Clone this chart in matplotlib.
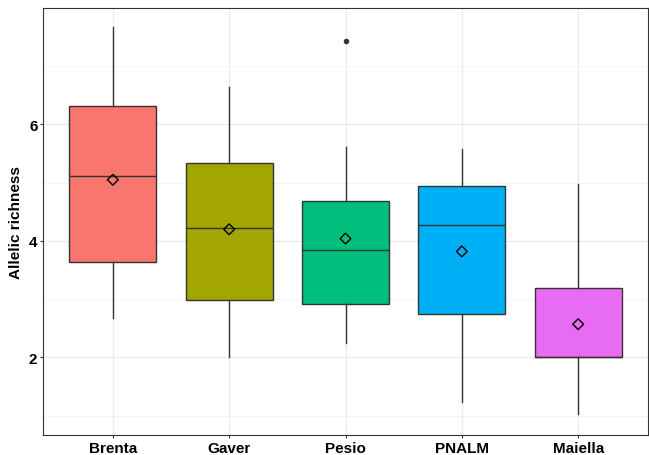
import matplotlib
matplotlib.use("Agg")
import matplotlib.pyplot as plt
import numpy as np

plt.rcParams["font.family"] = ["Liberation Sans", "DejaVu Sans"]

sites = ["Brenta", "Gaver", "Pesio", "PNALM", "Maiella"]
colors = ["#F8766D", "#A3A500", "#00BF7D", "#00B0F6", "#E76BF3"]

# box statistics
whislo = [2.67, 2.00, 2.24, 1.23, 1.02]
q1 = [3.63, 2.98, 2.91, 2.74, 2.00]
med = [5.12, 4.23, 3.84, 4.28, 2.00]
q3 = [6.32, 5.34, 4.68, 4.95, 3.20]
whishi = [7.68, 6.65, 5.62, 5.57, 4.97]
means = [5.05, 4.20, 4.04, 3.82, 2.57]
outliers = [[], [], [7.44], [], []]

stats = []
for i, s in enumerate(sites):
    stats.append({"label": s, "whislo": whislo[i], "q1": q1[i], "med": med[i],
                  "q3": q3[i], "whishi": whishi[i], "fliers": outliers[i]})

fig = plt.figure(figsize=(6.49, 4.56), dpi=100)
ax = fig.add_axes([43 / 649, 20 / 456, 605 / 649, 427 / 456])

pos = np.arange(1, len(sites) + 1)
edge = "#333333"
bp = ax.bxp(stats, positions=pos, widths=0.75, patch_artist=True, showcaps=False,
            boxprops=dict(edgecolor=edge, linewidth=1.0),
            medianprops=dict(color=edge, linewidth=1.0),
            whiskerprops=dict(color=edge, linewidth=1.0),
            flierprops=dict(marker="o", markersize=3, markerfacecolor=edge,
                            markeredgecolor=edge))
for patch, c in zip(bp["boxes"], colors):
    patch.set_facecolor(c)
    patch.set_zorder(2)

ax.scatter(pos, means, marker="D", s=30, facecolor="none", edgecolor="black",
           linewidth=1.0, zorder=4)

ax.set_xlim(0.4, 5.6)
ax.set_ylim(0.667, 8.0)
ax.set_yticks([2, 4, 6])
ax.set_yticks([1, 3, 5, 7], minor=True)
ax.set_xticks(pos)
ax.set_xticklabels(sites)
ax.grid(which="major", color="#EBEBEB", linewidth=1.0, zorder=0)
ax.grid(which="minor", axis="y", color="#F2F2F2", linewidth=0.6, zorder=0)
ax.set_axisbelow(True)
ax.tick_params(which="minor", length=0)
ax.tick_params(which="major", length=2.5, color="#333333", width=0.8, pad=1.5)
for lbl in ax.get_xticklabels() + ax.get_yticklabels():
    lbl.set_fontweight("bold")
    lbl.set_fontsize(11)
    lbl.set_color("black")
ax.set_ylabel("Allelic richness", fontsize=11, fontweight="bold", labelpad=4)
for sp in ax.spines.values():
    sp.set_color("#333333")
    sp.set_linewidth(0.8)

fig.savefig("out.png", dpi=100)
